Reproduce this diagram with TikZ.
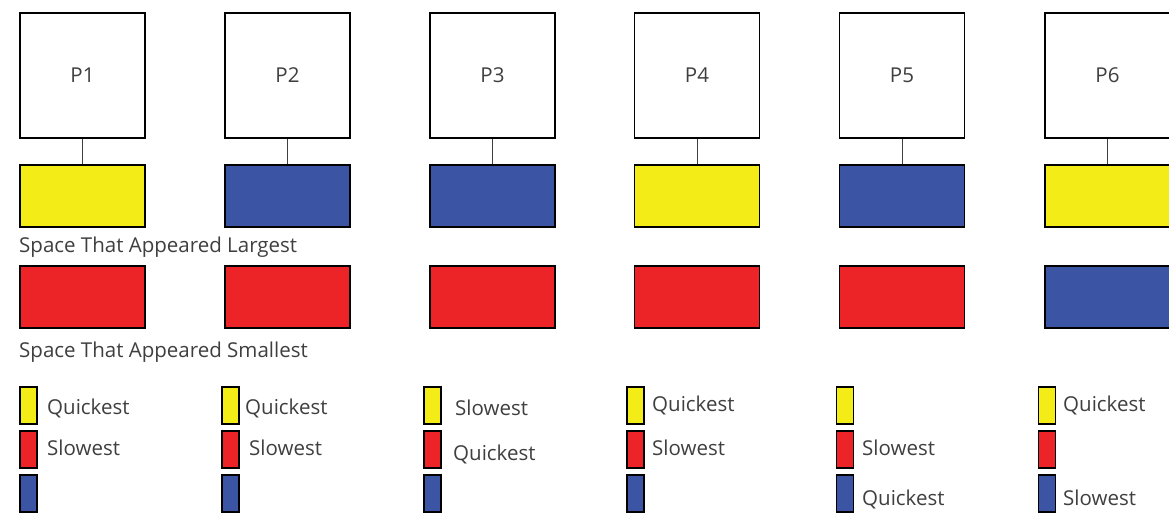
\documentclass[tikz,border=0pt]{standalone}
\usepackage{fontspec}
\setmainfont{Open Sans}
\definecolor{txt}{HTML}{3F3F3F}
\definecolor{cyel}{HTML}{F3EC17}
\definecolor{cblu}{HTML}{3C54A4}
\definecolor{cred}{HTML}{EC2327}
\begin{document}
\begin{tikzpicture}[x=1pt,y=-1pt,
  pbox/.style={draw=black,line width=1.6pt,fill=white,minimum width=125pt,minimum height=125pt,inner sep=0pt,font=\fontsize{20.5}{24}\selectfont,text=txt},
  bar/.style={draw=black,line width=1.6pt,minimum width=125pt,minimum height=62pt,inner sep=0pt},
  leg/.style={draw=black,line width=1.6pt,minimum width=17pt,minimum height=37pt,inner sep=0pt},
  lbl/.style={anchor=base west,inner sep=0pt,font=\fontsize{20.5}{24}\selectfont,text=txt},
  link/.style={draw=txt,line width=1pt}]
\useasboundingbox (0,0) rectangle (1169,515);
\clip (0,0) rectangle (1169,515);
% P boxes
\node[pbox] (p1) at (82.5,75.5) {P1};
\node[pbox] (p2) at (287.5,75.5) {P2};
\node[pbox] (p3) at (492.5,75.5) {P3};
\node[pbox] (p4) at (697,75.5) {P4};
\node[pbox] (p5) at (902,75.5) {P5};
\node[pbox] (p6) at (1107.5,75.5) {P6};
% largest row
\node[bar,fill=cyel] (a1) at (82.5,196) {};
\node[bar,fill=cblu] (a2) at (287.5,196) {};
\node[bar,fill=cblu] (a3) at (492.5,196) {};
\node[bar,fill=cyel] (a4) at (697,196) {};
\node[bar,fill=cblu] (a5) at (902,196) {};
\node[bar,fill=cyel] (a6) at (1107.5,196) {};
% smallest row
\node[bar,fill=cred] (b1) at (82.5,297) {};
\node[bar,fill=cred] (b2) at (287.5,297) {};
\node[bar,fill=cred] (b3) at (492.5,297) {};
\node[bar,fill=cred] (b4) at (697,297) {};
\node[bar,fill=cred] (b5) at (902,297) {};
\node[bar,fill=cblu] (b6) at (1107.5,297) {};
% connectors
\foreach \i in {1,...,6} {\draw[link] (p\i.south) -- (a\i.north);}
% row labels
\node[lbl] (tl) at (19,252) {Space That Appeared Largest};
\node[lbl] (ts) at (19,357) {Space That Appeared Smallest};
% legends
\foreach \i/\x in {1/28.5,2/230.5,3/432.5,4/635.5,5/845,6/1047} {
  \node[leg,fill=cyel] (y\i) at (\x,405.5) {};
  \node[leg,fill=cred] (r\i) at (\x,449.5) {};
  \node[leg,fill=cblu] (u\i) at (\x,493.5) {};
}
\node[lbl] (q1) at (47,414) {Quickest};
\node[lbl] (s1) at (47,455) {Slowest};
\node[lbl] (q2) at (245,414) {Quickest};
\node[lbl] (s2) at (249,455) {Slowest};
\node[lbl] (s3) at (455,415) {Slowest};
\node[lbl] (q3) at (453,460) {Quickest};
\node[lbl] (q4) at (652,411) {Quickest};
\node[lbl] (s4) at (652,455) {Slowest};
\node[lbl] (s5) at (862,455) {Slowest};
\node[lbl] (q5) at (862,505) {Quickest};
\node[lbl] (q6) at (1063,411) {Quickest};
\node[lbl] (s6) at (1063,505) {Slowest};
\end{tikzpicture}
\end{document}
